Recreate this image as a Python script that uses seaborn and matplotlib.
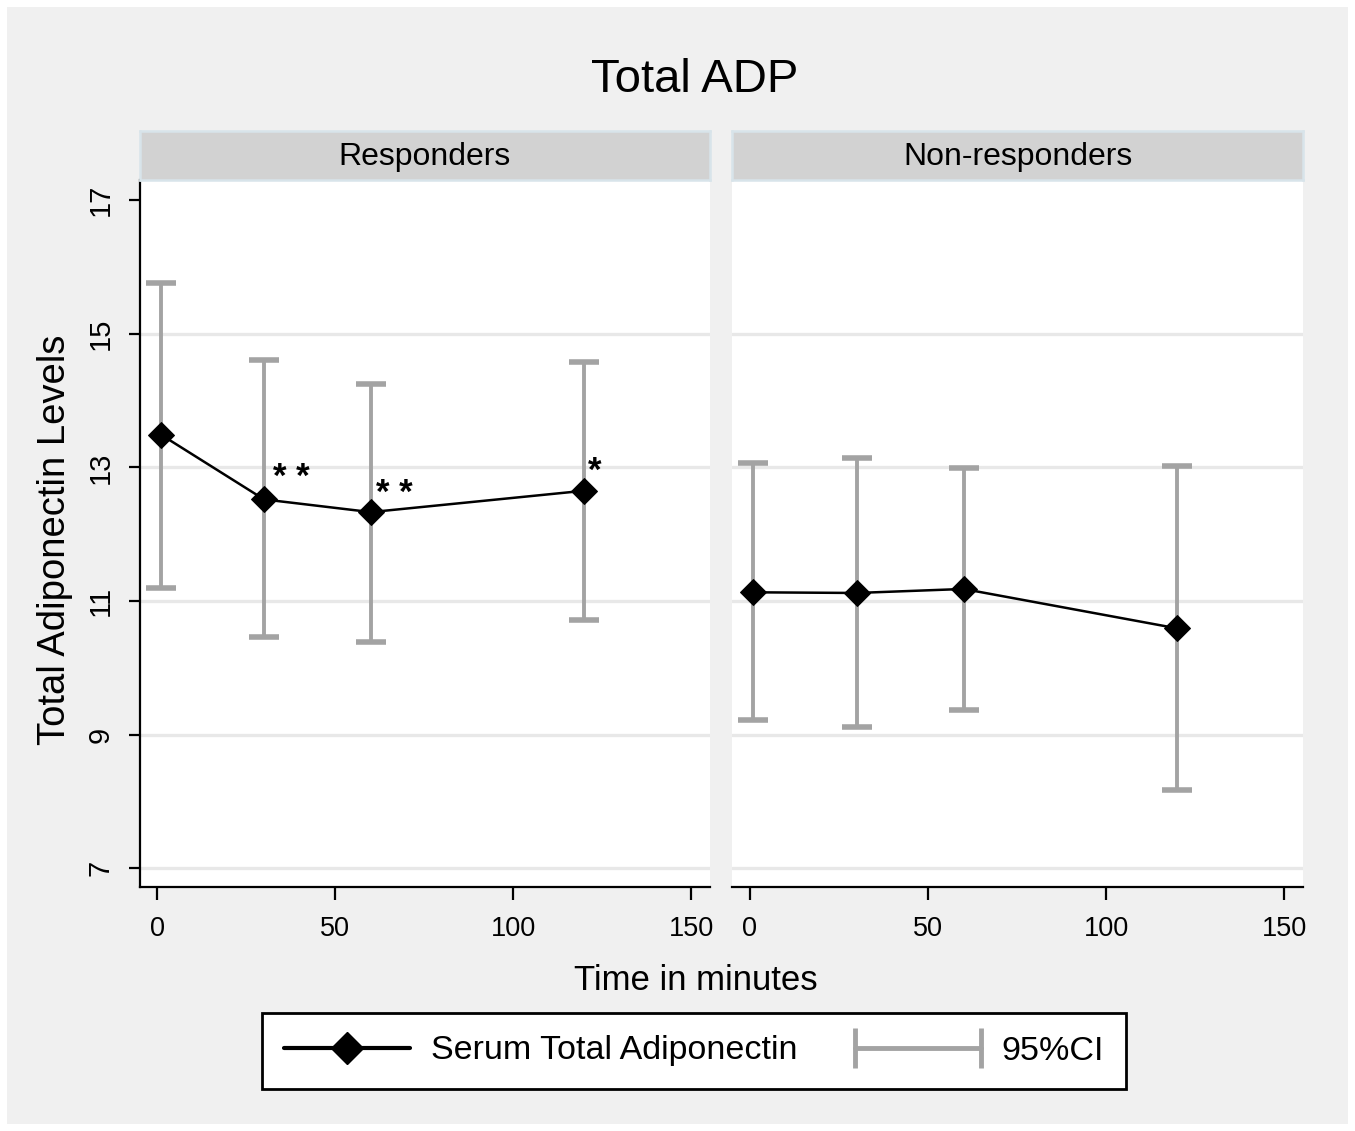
import pandas as pd
import matplotlib.pyplot as plt
import seaborn as sns
from matplotlib.lines import Line2D
from matplotlib.patches import Rectangle
from matplotlib.legend_handler import HandlerLine2D

# values
time = [1, 30, 60, 120]
resp_mean = [13.49, 12.52, 12.33, 12.65]
resp_lo = [11.20, 10.46, 10.39, 10.72]
resp_hi = [15.76, 14.60, 14.24, 14.57]
non_mean = [11.13, 11.12, 11.18, 10.59]
non_lo = [9.22, 9.11, 9.37, 8.17]
non_hi = [13.07, 13.14, 12.99, 13.02]
panels = ["Responders", "Non-responders"]
stars = [(37.6, 12.7, "* *"), (66.6, 12.47, "* *"), (122.8, 12.8, "*")]

df = pd.DataFrame({
    "time": time * 2,
    "mean": resp_mean + non_mean,
    "lo": resp_lo + non_lo,
    "hi": resp_hi + non_hi,
    "group": [panels[0]] * 4 + [panels[1]] * 4,
})

sns.set_theme(style="white")
REG = ["Liberation Sans", "DejaVu Sans"]
plt.rcParams["font.family"] = REG
plt.rcParams["text.color"] = "black"
plt.rcParams["xtick.labelcolor"] = "black"
plt.rcParams["ytick.labelcolor"] = "black"

W, H = 1355, 1131
fig = plt.figure(figsize=(W / 100, H / 100), dpi=100, facecolor="white")
fig.patches.append(Rectangle((7 / W, 7 / H), (W - 14) / W, (H - 14) / H,
                             transform=fig.transFigure, facecolor="#f0f0f0",
                             edgecolor="none", zorder=-10))

def fx(px):
    return px / W

def fy(py):
    return 1 - py / H

grey = "#a3a3a3"
for i, (x0, x1) in enumerate([(139.5, 710), (732, 1303)]):
    ax = fig.add_axes([fx(x0), fy(887), fx(x1 - x0), (887 - 180) / H])
    sub = df[df["group"] == panels[i]]
    ax.errorbar(sub["time"], sub["mean"],
                yerr=[sub["mean"] - sub["lo"], sub["hi"] - sub["mean"]],
                fmt="none", ecolor=grey, elinewidth=2.8, capsize=10.5,
                capthick=4, zorder=2)
    sns.lineplot(data=sub, x="time", y="mean", ax=ax, color="black",
                 marker="D", markersize=13, markeredgecolor="black",
                 linewidth=1.8, zorder=3)
    for v in [7, 9, 11, 13, 15]:
        ax.axhline(v, color="#e8e8e8", linewidth=2.4, zorder=0)
    ax.set_xlim(-5, 155.3)
    ax.set_ylim(6.72, 17.3)
    ax.set_xticks([0, 50, 100, 150])
    ax.set_xticklabels(["0", "50", "100", "150"], fontsize=19.5)
    ax.set_xlabel("")
    ax.set_ylabel("")
    ax.tick_params(axis="x", direction="out", length=9, width=1.6,
                   color="black", pad=12, bottom=True)
    for s in ["top", "right"]:
        ax.spines[s].set_visible(False)
    ax.spines["bottom"].set_color("black")
    ax.spines["bottom"].set_linewidth(1.6)
    if i == 0:
        ax.spines["left"].set_color("black")
        ax.spines["left"].set_linewidth(1.6)
        ax.set_yticks([7, 9, 11, 13, 15, 17])
        ax.set_yticklabels(["7", "9", "11", "13", "15", "17"], fontsize=21,
                           rotation=90, va="center")
        ax.tick_params(axis="y", direction="out", length=8, width=1.6,
                       color="black", pad=10, left=True)
        for x, y, s in stars:
            ax.text(x, y, s, fontsize=25, ha="center", va="baseline",
                    fontweight="bold")
    else:
        ax.spines["left"].set_visible(False)
        ax.set_yticks([7, 9, 11, 13, 15, 17])
        ax.tick_params(axis="y", left=False, labelleft=False)
    ax.set_facecolor("white")

    # strip header
    sax = fig.add_axes([fx(x0), fy(180), fx(x1 - x0), 49 / H])
    sax.set_facecolor("#d2d2d2")
    sax.set_xticks([])
    sax.set_yticks([])
    for s in sax.spines.values():
        s.set_color("#d8e4ea")
        s.set_linewidth(1.8)
    sax.text(0.5, 0.47, panels[i], transform=sax.transAxes, ha="center",
             va="center", fontsize=23, color="black")

fig.text(fx(695), fy(80), "Total ADP", ha="center", va="center", fontsize=34)
fig.text(fx(696), fy(980), "Time in minutes", ha="center", va="center",
         fontsize=25)
fig.text(fx(55), fy(540), "Total Adiponectin Levels", ha="center",
         va="center", rotation=90, fontsize=27.5)

h1 = Line2D([], [], color="black", linewidth=3, marker="D", markersize=16)
h2 = Line2D([], [], color=grey, linewidth=3.5, marker="|", markersize=29,
            markeredgewidth=3.5)
leg = fig.legend([h1, h2], ["Serum Total Adiponectin", "95%CI"],
                 loc="center", bbox_to_anchor=(fx(694), fy(1051)), ncol=2,
                 fontsize=24.5, frameon=True, fancybox=False, framealpha=1,
                 handlelength=3.7, handletextpad=0.6, columnspacing=1.7,
                 borderpad=0.65, borderaxespad=0,
                 handler_map={h1: HandlerLine2D(numpoints=1),
                              h2: HandlerLine2D(numpoints=2, marker_pad=0)})
leg.get_frame().set_edgecolor("black")
leg.get_frame().set_linewidth(2)
leg.get_frame().set_facecolor("white")

fig.savefig("out.png", dpi=100, facecolor=fig.get_facecolor())
